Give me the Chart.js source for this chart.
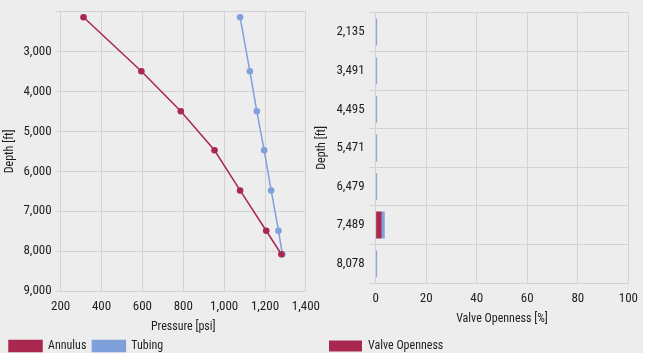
<!DOCTYPE html>
<html>
<head>
<meta charset="utf-8">
<script src="https://cdn.jsdelivr.net/npm/chart.js@4"></script>
<style>
  html, body { margin: 0; padding: 0; background: #ffffff; }
  .panel { position: absolute; left: 0; top: 0; width: 643px; height: 353px; background: #ededed; }
  #left { position: absolute; left: 0; top: 0; }
  #right { position: absolute; left: 312px; top: 0; }
</style>
</head>
<body>
<div class="panel">
  <canvas id="left" width="328" height="353"></canvas>
  <canvas id="right" width="334" height="353"></canvas>
</div>
<script>
const depths = [2135, 3491, 4495, 5471, 6479, 7489, 8078];
const annulusPressure = [312, 595, 788, 953, 1078, 1206, 1280];
const tubingPressure = [1078, 1126, 1160, 1196, 1230, 1266, 1285];
const depthLabels = ['2,135', '3,491', '4,495', '5,471', '6,479', '7,489', '8,078'];
const valveOpenness = [0, 0, 0, 0, 0, 2.4, 0];
const tubingOpenness = [0.6, 0.6, 0.6, 0.6, 0.6, 1.2, 0.6];

const crimson = '#a9284f';
const blue = '#7fa0da';
const gridColor = '#d3d3d3';
const textColor = '#1e1e1e';

Chart.defaults.font.family = "'Roboto Condensed', 'DejaVu Sans Condensed', sans-serif";
Chart.defaults.color = textColor;
Chart.defaults.animation = false;

const fmt = v => v.toLocaleString('en-US');
const tickFont = { size: 13 };
const titleFont = { size: 12 };

new Chart(document.getElementById('left'), {
    type: 'line',
    data: {
        datasets: [
            {
                label: 'Annulus',
                data: depths.map((d, i) => ({ x: annulusPressure[i], y: d })),
                borderColor: crimson,
                backgroundColor: crimson,
                borderWidth: 1.5,
                pointRadius: 3.3,
                pointBorderWidth: 0,
                order: 0
            },
            {
                label: 'Tubing',
                data: depths.map((d, i) => ({ x: tubingPressure[i], y: d })),
                borderColor: blue,
                backgroundColor: blue,
                borderWidth: 1.5,
                pointRadius: 3.3,
                pointBorderWidth: 0,
                order: 1
            }
        ]
    },
    options: {
        responsive: false,
        layout: { padding: { left: 3, right: 0, top: -1, bottom: -9 } },
        plugins: {
            legend: {
                position: 'bottom',
                align: 'start',
                labels: { boxWidth: 33, boxHeight: 11, padding: 6, font: titleFont, color: textColor }
            },
            tooltip: { enabled: false }
        },
        scales: {
            x: {
                type: 'linear',
                min: 200,
                max: 1400,
                ticks: { stepSize: 200, callback: fmt, font: tickFont, padding: 8, maxRotation: 0 },
                grid: { color: gridColor, drawTicks: false },
                border: { color: gridColor },
                title: { display: true, text: 'Pressure [psi]', font: titleFont, padding: { top: -3, bottom: 0 } }
            },
            y: {
                type: 'linear',
                reverse: true,
                min: 2000,
                max: 9000,
                ticks: { stepSize: 1000, font: tickFont, padding: 4, callback: v => v === 2000 ? '' : fmt(v) },
                grid: { color: gridColor, tickLength: 5 },
                border: { color: gridColor },
                title: { display: true, text: 'Depth [ft]', font: titleFont, padding: { top: 0, bottom: 2 } }
            }
        }
    }
});

new Chart(document.getElementById('right'), {
    type: 'bar',
    data: {
        labels: depthLabels,
        datasets: [
            { label: 'Valve Openness', data: valveOpenness, backgroundColor: crimson, borderWidth: 0 },
            { label: 'Tubing Openness', data: tubingOpenness, backgroundColor: blue, borderWidth: 0 }
        ]
    },
    options: {
        responsive: false,
        indexAxis: 'y',
        categoryPercentage: 1,
        barPercentage: 0.7,
        layout: { padding: { left: 3, right: 0, top: 4, bottom: -9 } },
        plugins: {
            legend: {
                position: 'bottom',
                align: 'start',
                labels: {
                    boxWidth: 33,
                    boxHeight: 11,
                    padding: 14,
                    font: titleFont,
                    color: textColor,
                    filter: item => item.text === 'Valve Openness'
                }
            },
            tooltip: { enabled: false }
        },
        scales: {
            x: {
                stacked: true,
                min: 0,
                max: 100,
                ticks: { stepSize: 20, font: tickFont, padding: 8, maxRotation: 0 },
                grid: { color: gridColor, drawTicks: false },
                border: { color: gridColor },
                title: { display: true, text: 'Valve Openness [%]', font: titleFont, padding: { top: -3, bottom: 0 } }
            },
            y: {
                stacked: true,
                ticks: { font: tickFont, padding: 5 },
                grid: { color: gridColor, tickLength: 6 },
                border: { color: gridColor },
                title: { display: true, text: 'Depth [ft]', font: titleFont, padding: { top: 0, bottom: 2 } }
            }
        }
    }
});
</script>
</body>
</html>
